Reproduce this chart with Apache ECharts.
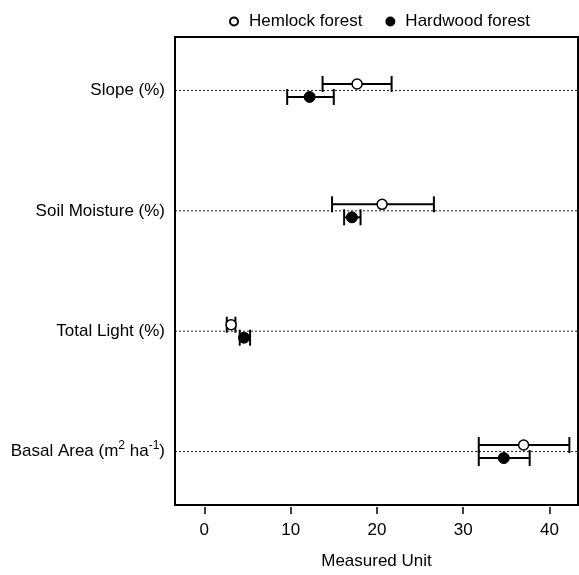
<!DOCTYPE html>
<html>
<head>
<meta charset="utf-8">
<script src="https://cdn.jsdelivr.net/npm/echarts@6/dist/echarts.min.js"></script>
<style>
html,body{margin:0;padding:0;background:#fff;overflow:hidden;}
#chart{width:579px;height:575px;}
</style>
</head>
<body>
<div id="chart"></div>
<script>
// ---- data ----
const categories = ['Slope (%)', 'Soil Moisture (%)', 'Total Light (%)', 'Basal Area (m² ha⁻¹)'];
const hemlockMean = [17.7, 20.6, 3.1, 37.0];
const hemlockLow  = [13.7, 14.8, 2.6, 31.8];
const hemlockHigh = [21.7, 26.6, 3.6, 42.3];
const hardwoodMean = [12.2, 17.1, 4.6, 34.7];
const hardwoodLow  = [9.6, 16.2, 4.1, 31.8];
const hardwoodHigh = [15.0, 18.1, 5.3, 37.7];
const xTicks = [0, 10, 20, 30, 40];
const seriesNames = ['Hemlock forest', 'Hardwood forest'];
const xTitle = 'Measured Unit';

const FONT = 'Liberation Sans, Arial, sans-serif';
const FS = 17;
const catPos = categories.map((c, i) => i + 1);

function errData(low, high) {
  return categories.map((c, i) => [low[i], high[i], catPos[i]]);
}
function ptData(mean) {
  return categories.map((c, i) => [mean[i], catPos[i]]);
}
function errRender(offset) {
  return function (params, api) {
    const p1 = api.coord([api.value(0), api.value(2)]);
    const p2 = api.coord([api.value(1), api.value(2)]);
    const y = p1[1] + offset;
    const cap = 8;
    const st = { stroke: '#000', lineWidth: 2 };
    return {
      type: 'group',
      children: [
        { type: 'line', shape: { x1: p1[0], y1: y, x2: p2[0], y2: y }, style: st },
        { type: 'line', shape: { x1: p1[0], y1: y - cap, x2: p1[0], y2: y + cap }, style: st },
        { type: 'line', shape: { x1: p2[0], y1: y - cap, x2: p2[0], y2: y + cap }, style: st }
      ]
    };
  };
}

const chart = echarts.init(document.getElementById('chart'));
chart.setOption({
  animation: false,
  backgroundColor: '#fff',
  textStyle: { fontFamily: FONT },
  legend: {
    data: seriesNames,
    left: 224,
    top: 8,
    itemWidth: 8,
    itemHeight: 8,
    itemGap: 23,
    textStyle: { fontSize: FS, color: '#000', fontFamily: FONT, padding: [0, 0, 0, 6] }
  },
  grid: {
    left: 175, width: 403, top: 37, height: 473,
    show: true, borderColor: '#000', borderWidth: 2, backgroundColor: 'transparent'
  },
  xAxis: {
    type: 'value',
    min: -3.4, max: 43.3,
    offset: 2,
    axisLine: { show: false },
    splitLine: { show: false },
    axisTick: { show: true, length: 7, customValues: xTicks, lineStyle: { color: '#000', width: 1.5 } },
    axisLabel: { customValues: xTicks, margin: 15, fontSize: FS, color: '#000', fontFamily: FONT },
    name: xTitle,
    nameLocation: 'middle',
    nameGap: 46,
    nameTextStyle: { fontSize: FS, color: '#000', fontFamily: FONT }
  },
  yAxis: {
    type: 'value',
    inverse: true,
    min: 0.556, max: 4.444,
    axisLine: { show: false },
    axisTick: { show: false },
    splitLine: { show: false },
    axisLabel: {
      customValues: catPos,
      margin: 10,
      fontSize: FS,
      color: '#000',
      fontFamily: FONT,
      formatter: function (v) {
        const s = categories[Math.round(v) - 1] || '';
        return '{n|' + s.replace('²', '}{sup|2}{n|').replace('⁻¹', '}{sup|-1}{n|') + '}';
      },
      rich: {
        n: { fontSize: FS, lineHeight: 24, color: '#000', fontFamily: FONT },
        sup: { fontSize: 12, lineHeight: 12, verticalAlign: 'top', color: '#000', fontFamily: FONT }
      }
    }
  },
  series: [
    {
      type: 'custom',
      name: 'guides',
      silent: true,
      z: 1,
      data: catPos.map(p => [0, p]),
      encode: { x: 0, y: 1 },
      renderItem: function (params, api) {
        const cs = params.coordSys;
        const y = api.coord([0, api.value(1)])[1];
        return {
          type: 'line',
          shape: { x1: cs.x, y1: y, x2: cs.x + cs.width, y2: y },
          style: { stroke: '#222', lineWidth: 1, lineDash: [2, 2] }
        };
      }
    },
    {
      type: 'custom', name: 'hemlockCI', z: 2,
      data: errData(hemlockLow, hemlockHigh),
      encode: { x: [0, 1], y: 2 },
      renderItem: errRender(-6.5)
    },
    {
      type: 'custom', name: 'hardwoodCI', z: 2,
      data: errData(hardwoodLow, hardwoodHigh),
      encode: { x: [0, 1], y: 2 },
      renderItem: errRender(6.5)
    },
    {
      type: 'scatter', name: seriesNames[0], z: 3,
      data: ptData(hemlockMean),
      symbol: 'circle', symbolSize: 10, symbolOffset: [0, -6.5],
      itemStyle: { color: '#fff', borderColor: '#000', borderWidth: 1.5, opacity: 1 }
    },
    {
      type: 'scatter', name: seriesNames[1], z: 3,
      data: ptData(hardwoodMean),
      symbol: 'circle', symbolSize: 11, symbolOffset: [0, 6.5],
      itemStyle: { color: '#000', borderColor: '#000', borderWidth: 1, opacity: 1 }
    }
  ]
});
</script>
</body>
</html>
